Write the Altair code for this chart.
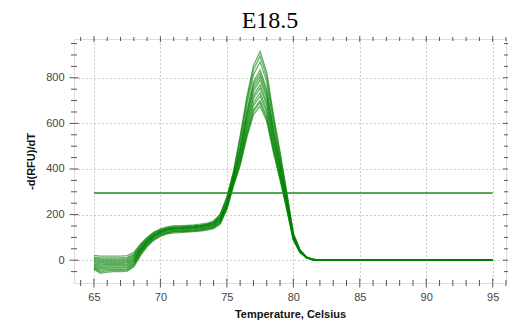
import altair as alt
import pandas as pd

# Temperatures (Celsius) at which each melt curve is sampled
temps = [65.0, 65.5, 66.0, 66.5, 67.0, 67.5, 68.0, 68.5, 69.0, 69.5, 70.0, 70.5,
         71.0, 71.5, 72.0, 72.5, 73.0, 73.5, 74.0, 74.5, 75.0, 75.5, 76.0, 76.5,
         77.0, 77.5, 78.0, 78.5, 79.0, 79.5, 80.0, 80.5, 81.0, 81.5, 82.0, 85.0, 90.0, 95.0]

# -d(RFU)/dT for each well
c01 = [21, 18, 18, 18, 18, 20, 34, 71, 100, 121, 134, 142, 146, 146, 148, 150, 153, 157, 168, 200, 278, 390, 545, 715, 853, 915, 824, 640, 476, 302, 119, 46, 14, 4, 1, 0, 0, 1]
c02 = [13, 10, 10, 10, 10, 12, 26, 64, 94, 115, 129, 137, 141, 141, 143, 145, 148, 152, 163, 195, 272, 385, 535, 700, 835, 895, 805, 626, 465, 295, 116, 45, 13, 3, 1, 1, 0, 0]
c03 = [8, 5, 5, 5, 5, 7, 23, 65, 98, 122, 137, 146, 151, 151, 153, 155, 158, 162, 172, 202, 270, 380, 520, 682, 813, 870, 783, 609, 452, 287, 113, 43, 13, 3, 0, 0, 1, 0]
c04 = [2, 0, 0, 0, 0, 2, 17, 56, 87, 109, 123, 132, 136, 136, 138, 140, 143, 147, 155, 182, 255, 365, 500, 656, 781, 835, 751, 584, 434, 276, 108, 42, 12, 3, 0, 0, 0, 1]
c05 = [-3, -5, -5, -5, -5, -3, 13, 56, 90, 114, 130, 139, 143, 144, 146, 148, 151, 155, 163, 188, 254, 364, 489, 644, 768, 820, 738, 574, 426, 271, 107, 41, 12, 3, 1, 0, 0, 0]
c06 = [-8, -10, -10, -10, -10, -8, 7, 48, 80, 103, 118, 126, 131, 131, 133, 135, 138, 142, 150, 175, 247, 357, 482, 633, 754, 805, 724, 563, 419, 266, 105, 40, 12, 2, 0, 0, 0, 0]
c07 = [-12, -16, -15, -15, -15, -13, 4, 48, 82, 107, 123, 133, 137, 138, 140, 142, 145, 149, 157, 182, 251, 361, 475, 623, 741, 790, 711, 553, 411, 261, 103, 40, 12, 3, 1, 0, 0, -1]
c08 = [-18, -21, -20, -20, -20, -18, -2, 40, 73, 97, 112, 121, 126, 126, 128, 130, 133, 137, 145, 168, 238, 348, 462, 607, 723, 770, 693, 539, 400, 254, 100, 38, 12, 2, 0, 0, 0, 0]
c09 = [-22, -27, -25, -25, -25, -23, -4, 45, 84, 112, 129, 140, 145, 146, 148, 150, 153, 157, 165, 188, 250, 358, 456, 596, 710, 755, 680, 528, 393, 249, 98, 38, 11, 3, 0, 0, 0, 0]
c10 = [-26, -33, -30, -30, -30, -28, -10, 37, 74, 101, 118, 128, 133, 134, 136, 138, 141, 145, 152, 172, 238, 345, 445, 580, 691, 735, 661, 514, 382, 243, 96, 37, 11, 2, 0, 0, 0, 1]
c11 = [-30, -38, -35, -35, -35, -33, -15, 30, 66, 92, 108, 118, 123, 124, 126, 128, 131, 135, 142, 162, 232, 338, 438, 570, 678, 720, 648, 504, 374, 238, 94, 36, 11, 2, 0, 0, 0, 0]
c12 = [-34, -45, -40, -40, -40, -38, -18, 34, 75, 104, 123, 134, 139, 141, 143, 145, 148, 152, 158, 178, 232, 335, 428, 555, 660, 700, 630, 490, 364, 231, 91, 35, 10, 2, 0, 0, 0, 0]
c13 = [-38, -52, -46, -45, -45, -43, -24, 26, 65, 93, 111, 121, 127, 128, 130, 132, 135, 139, 145, 165, 226, 330, 422, 548, 651, 690, 621, 483, 359, 228, 90, 35, 10, 2, 0, 0, 0, 0]
c14 = [-40, -58, -52, -50, -50, -48, -29, 20, 59, 87, 104, 115, 120, 121, 123, 125, 128, 132, 138, 158, 222, 325, 415, 538, 638, 675, 608, 473, 351, 223, 88, 34, 10, 2, 0, 0, 0, -1]

curves = [c01, c02, c03, c04, c05, c06, c07, c08, c09, c10, c11, c12, c13, c14]

threshold = [295]
threshold_span = [65, 95]

x_major = [65, 70, 75, 80, 85, 90, 95]
x_minor = [64, 66, 67, 68, 69, 71, 72, 73, 74, 76, 77, 78, 79, 81, 82, 83, 84,
           86, 87, 88, 89, 91, 92, 93, 94, 96]
y_major = [0, 200, 400, 600, 800]
y_minor = [-50, 50, 100, 150, 250, 300, 350, 450, 500, 550, 650, 700, 750, 850, 900, 950]

x_domain = [63.5, 96]
y_domain = [-100, 970]

rows = []
for i, c in enumerate(curves):
    for t, v in zip(temps, c):
        rows.append({"well": i, "temp": t, "val": v})
df = pd.DataFrame(rows)

GREEN = "#008000"
FRAME = "#555555"

xs = alt.Scale(domain=x_domain, nice=False, zero=False)
ys = alt.Scale(domain=y_domain, nice=False, zero=False)

x_axis = alt.Axis(values=x_major, title="Temperature, Celsius", grid=True,
                  gridDash=[1, 3], gridColor="#999999", gridWidth=1,
                  domain=False, ticks=False, tickSize=0, labelPadding=8,
                  labelFont="Liberation Sans", labelFontSize=11, labelColor="#444444",
                  titleFont="Liberation Sans", titleFontSize=11, titleFontWeight="bold",
                  titleColor="#111111", titlePadding=6)
y_axis = alt.Axis(values=y_major, title="-d(RFU)/dT", grid=True,
                  gridDash=[1, 3], gridColor="#999999", gridWidth=1,
                  domain=False, ticks=False, tickSize=0, labelPadding=10,
                  labelFont="Liberation Sans", labelFontSize=11, labelColor="#444444",
                  titleFont="Liberation Sans", titleFontSize=11, titleFontWeight="bold",
                  titleColor="#111111", titlePadding=9)

lines = alt.Chart(df).mark_line(stroke=GREEN, strokeWidth=1.3, opacity=0.6).encode(
    x=alt.X("temp:Q", scale=xs, axis=x_axis),
    y=alt.Y("val:Q", scale=ys, axis=y_axis),
    detail="well:N",
)

thr = alt.Chart(pd.DataFrame({"y": threshold, "x1": [threshold_span[0]], "x2": [threshold_span[1]]})).mark_rule(
    color="#1f8a1f", strokeWidth=1.6).encode(
    x=alt.X("x1:Q", scale=xs), x2="x2:Q", y=alt.Y("y:Q", scale=ys))

xmaj = pd.DataFrame({"t": x_major})
xmin = pd.DataFrame({"t": x_minor})
ymaj = pd.DataFrame({"v": y_major})
ymin = pd.DataFrame({"v": y_minor})

def xticks(d, size, ypos):
    return alt.Chart(d).mark_tick(orient="vertical", size=size, thickness=1, color=FRAME, opacity=1).encode(
        x=alt.X("t:Q", scale=xs), y=alt.YDatum(ypos))

def yticks(d, size, xpos):
    return alt.Chart(d).mark_tick(orient="horizontal", size=size, thickness=1, color=FRAME, opacity=1).encode(
        y=alt.Y("v:Q", scale=ys), x=alt.XDatum(xpos))

layers = [
    lines, thr,
    xticks(xmaj, 9, y_domain[0]), xticks(xmin, 6, y_domain[0]),
    xticks(xmaj, 6, y_domain[1]), xticks(xmin, 4, y_domain[1]),
    yticks(ymaj, 9, x_domain[0]), yticks(ymin, 6, x_domain[0]),
    yticks(ymaj, 6, x_domain[1]), yticks(ymin, 4, x_domain[1]),
]

chart = alt.layer(*layers).properties(
    width=432, height=244,
    title=alt.TitleParams("E18.5", font="Liberation Serif", fontSize=24, fontWeight="normal",
                          color="#000000", anchor="middle", dx=-20, offset=3),
    autosize=alt.AutoSizeParams(type="none"),
    padding={"left": 66, "top": 31, "right": 2, "bottom": 42},
).configure_view(stroke=FRAME, strokeWidth=1).configure(background="white")

chart.save("out.html", embed_options={"renderer": "svg", "actions": False})
